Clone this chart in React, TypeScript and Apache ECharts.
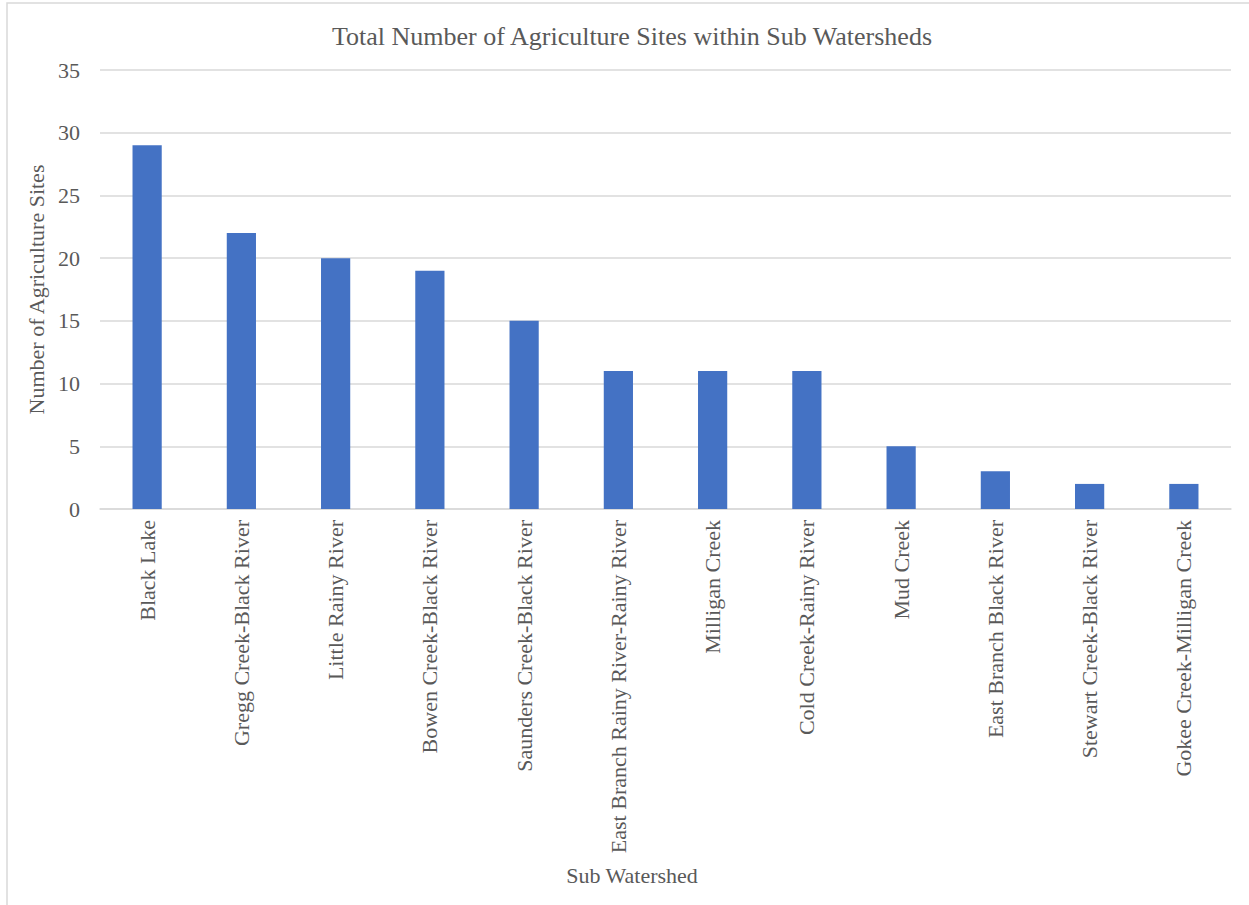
import React, { useEffect, useRef } from "react";
import * as echarts from "echarts";

const categories = [
  "Black Lake",
  "Gregg Creek-Black River",
  "Little Rainy River",
  "Bowen Creek-Black River",
  "Saunders Creek-Black River",
  "East Branch Rainy River-Rainy River",
  "Milligan Creek",
  "Cold Creek-Rainy River",
  "Mud Creek",
  "East Branch Black River",
  "Stewart Creek-Black River",
  "Gokee Creek-Milligan Creek",
];
const values = [29, 22, 20, 19, 15, 11, 11, 11, 5, 3, 2, 2];

const FONT = "'Liberation Serif', 'Times New Roman', serif";
const TXT = "#595959";

export default function App() {
  const ref = useRef<HTMLDivElement>(null);
  useEffect(() => {
    const chart = echarts.init(ref.current!, undefined, { renderer: "svg" });
    chart.setOption({
      animation: false,
      backgroundColor: "#ffffff",
      title: {
        text: "Total Number of Agriculture Sites within Sub Watersheds",
        left: 327,
        top: 18,
        textStyle: { fontFamily: FONT, fontSize: 26, fontWeight: "normal", color: TXT },
      },
      graphic: [
        {
          type: "rect",
          shape: { x: 7, y: 3, width: 1260, height: 920 },
          style: { fill: "none", stroke: "#d9d9d9", lineWidth: 1.5 },
          silent: true,
        },
        {
          type: "text",
          x: 632,
          y: 875,
          style: {
            text: "Sub Watershed",
            fontFamily: FONT,
            fontSize: 22,
            fill: TXT,
            align: "center",
            verticalAlign: "middle",
          },
          silent: true,
        },
      ],
      grid: { left: 100, right: 18, top: 70, bottom: 396, containLabel: false },
      xAxis: {
        type: "category",
        data: categories,
        axisLine: { lineStyle: { color: "#d9d9d9", width: 1.5 } },
        axisTick: { show: false },
        axisLabel: {
          rotate: 90,
          interval: 0,
          margin: 11,
          fontFamily: FONT,
          fontSize: 22,
          color: TXT,
        },
      },
      yAxis: {
        type: "value",
        min: 0,
        max: 35,
        interval: 5,
        axisLine: { show: false },
        axisTick: { show: false },
        splitLine: { lineStyle: { color: "#d9d9d9", width: 1.5 } },
        axisLabel: { margin: 20, fontFamily: FONT, fontSize: 22, color: TXT },
        name: "Number of Agriculture Sites",
        nameLocation: "middle",
        nameGap: 42,
        nameTextStyle: { fontFamily: FONT, fontSize: 22, color: TXT },
      },
      series: [
        {
          type: "bar",
          data: values,
          barWidth: "31%",
          itemStyle: { color: "#4472C4" },
        },
      ],
    });
    return () => chart.dispose();
  }, []);
  return (
    <div
      ref={ref}
      style={{ position: "absolute", left: 0, top: 0, width: 1249, height: 905 }}
    />
  );
}
